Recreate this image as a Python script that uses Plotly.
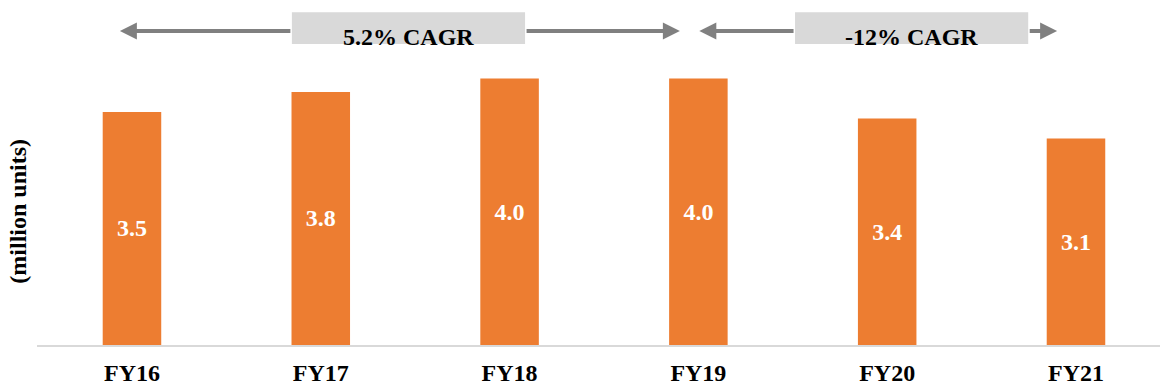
import plotly.graph_objects as go

# Annual volumes (million units)
years = ["FY16", "FY17", "FY18", "FY19", "FY20", "FY21"]
volumes = [3.5, 3.8, 4.0, 4.0, 3.4, 3.1]

# Growth callouts: label, arrow start/end (category positions), box span
cagr_labels = ["5.2% CAGR", "-12% CAGR"]
cagr_arrow_spans = [(-0.064, 2.902), (3.005, 4.900)]
cagr_box_spans = [(0.847, 2.082), (3.512, 4.747)]

ORANGE = "#ED7D31"
GREY_ARROW = "#808080"
GREY_BOX = "#D9D9D9"
FONT = "Liberation Serif"

W, H = 1160, 388
M_L, M_B, M_T = 37, 42.5, 0
Y_MAX = 345.5 / 66.7          # plot height in value units


def py(px):
    """Convert a pixel row (from top of figure) to y data units."""
    return (H - M_B - px) / (H - M_B - M_T) * Y_MAX


fig = go.Figure()
fig.add_trace(go.Bar(
    x=list(range(len(years))),
    y=volumes,
    width=0.31,
    marker=dict(color=ORANGE, line=dict(width=0)),
    text=[f"{v:.1f}" for v in volumes],
    textposition="inside",
    insidetextanchor="middle",
    textangle=0,
    textfont=dict(family=FONT, size=24, color="white", weight="bold"),
    hoverinfo="skip",
))

shapes = []
annotations = []
arrow_y = py(31)
for label, (a0, a1), (b0, b1) in zip(cagr_labels, cagr_arrow_spans, cagr_box_spans):
    # two arrow segments running outward from the label box
    for tail, head in ((b0, a0), (b1, a1)):
        annotations.append(dict(
            x=head, y=arrow_y, ax=tail, ay=arrow_y,
            xref="x", yref="y", axref="x", ayref="y",
            text="", showarrow=True,
            arrowhead=2, arrowwidth=4, arrowsize=0.85,
            arrowcolor=GREY_ARROW, standoff=0, startstandoff=0,
        ))
    # label box
    shapes.append(dict(
        type="rect", xref="x", yref="y",
        x0=b0, x1=b1, y0=py(44), y1=py(12.3),
        fillcolor=GREY_BOX, line=dict(width=0), layer="above",
    ))
    annotations.append(dict(
        x=(b0 + b1) / 2, y=py(37), xref="x", yref="y",
        text=label, showarrow=False, xanchor="center", yanchor="middle",
        font=dict(family=FONT, size=24, color="black", weight="bold"),
    ))

# vertical axis caption
annotations.append(dict(
    x=0, y=0, xref="paper", yref="paper",
    text="(million units)", showarrow=False, textangle=-90,
    xanchor="center", yanchor="middle",
    font=dict(family=FONT, size=24, color="black", weight="bold"),
))

fig.update_layout(
    width=W, height=H,
    margin=dict(l=M_L, r=0, t=M_T, b=M_B, pad=0, autoexpand=False),
    paper_bgcolor="white", plot_bgcolor="white",
    showlegend=False,
    shapes=shapes,
    annotations=annotations,
    xaxis=dict(
        range=[-0.503, 5.445],
        tickmode="array", tickvals=list(range(len(years))), ticktext=years,
        showline=True, linecolor=GREY_BOX, linewidth=2,
        showgrid=False, zeroline=False,
        ticks="outside", ticklen=5, tickcolor="rgba(0,0,0,0)",
        tickfont=dict(family=FONT, size=24, color="black", weight="bold"),
        automargin=False, fixedrange=True,
    ),
    yaxis=dict(
        range=[0, Y_MAX], visible=False, fixedrange=True, automargin=False,
    ),
)

# caption positioned in pixels: convert to paper coordinates
cap = fig.layout.annotations[-1]
plot_w = W - M_L
plot_h = H - M_B - M_T
cap.x = (18 - M_L) / plot_w
cap.y = 1 - (212 - M_T) / plot_h

fig.write_html("out.html", config={"displayModeBar": False})
